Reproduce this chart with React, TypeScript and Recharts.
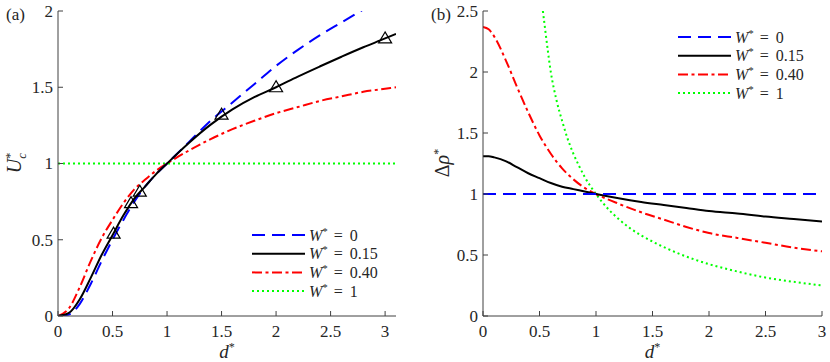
import React from 'react';
import { ComposedChart, Line, Scatter, XAxis, YAxis, Legend, Label } from 'recharts';

// panel (a): U*_c against d*
const dLeft = [0, 0.1, 0.2, 0.3, 0.4, 0.5, 0.6, 0.7, 0.8, 0.9, 1.0, 1.2, 1.4, 1.6, 1.8, 2.0, 2.2, 2.4, 2.6, 2.8, 3.0, 3.1];
const uW0 = [0, 0.01, 0.08, 0.21, 0.36, 0.5, 0.63, 0.75, 0.85, 0.93, 1.0, 1.14, 1.28, 1.4, 1.52, 1.64, 1.745, 1.84, 1.925, 2.01];
const uW015 = [0, 0.02, 0.11, 0.25, 0.4, 0.53, 0.66, 0.77, 0.85, 0.93, 1.0, 1.135, 1.255, 1.355, 1.435, 1.5, 1.57, 1.636, 1.7, 1.762, 1.82, 1.85];
const uW040 = [0, 0.05, 0.19, 0.36, 0.51, 0.63, 0.74, 0.83, 0.895, 0.953, 1.0, 1.085, 1.16, 1.225, 1.28, 1.33, 1.37, 1.41, 1.44, 1.47, 1.49, 1.5];
const dFlatLeft = [0, 3.1];
const uW1 = [1, 1];
const markerD = [0.51, 0.67, 0.75, 1.5, 2, 3];
const markerU = [0.54, 0.74, 0.815, 1.32, 1.5, 1.82];

// panel (b): delta rho* against d*
const dRight = [0, 0.05, 0.1, 0.2, 0.3, 0.4, 0.5, 0.6, 0.7, 0.8, 0.9, 1.0, 1.2, 1.4, 1.6, 1.8, 2.0, 2.25, 2.5, 2.75, 3.0];
const dFlatRight = [0, 3];
const rhoW0 = [1, 1];
const rhoW015 = [1.31, 1.31, 1.3, 1.27, 1.22, 1.17, 1.13, 1.09, 1.06, 1.04, 1.02, 1.0, 0.965, 0.935, 0.91, 0.885, 0.86, 0.84, 0.815, 0.795, 0.775];
const rhoW040 = [2.37, 2.35, 2.29, 2.1, 1.88, 1.67, 1.48, 1.33, 1.21, 1.12, 1.05, 1.0, 0.92, 0.85, 0.79, 0.73, 0.68, 0.64, 0.6, 0.56, 0.53];
const dGreen = [0.53, 0.55, 0.6, 0.65, 0.7, 0.75, 0.8, 0.85, 0.9, 1.0, 1.1, 1.2, 1.3, 1.4, 1.5, 1.75, 2.0, 2.25, 2.5, 2.75, 3.0];
const rhoW1 = [2.5, 2.35, 2.0, 1.77, 1.6, 1.45, 1.33, 1.23, 1.14, 1.0, 0.885, 0.795, 0.72, 0.66, 0.61, 0.505, 0.425, 0.365, 0.315, 0.28, 0.25];

const xTicks = [0, 0.5, 1, 1.5, 2, 2.5, 3];
const yTicksLeft = [0, 0.5, 1, 1.5, 2];
const yTicksRight = [0, 0.5, 1, 1.5, 2, 2.5];
const legendValues = ['0', '0.15', '0.40', '1'];

const serif = 'Liberation Serif';
const textColor = '#262626';
const axisColor = '#404040';
const looks = [
  { color: '#0000ff', dash: '13 7' },
  { color: '#000000', dash: undefined },
  { color: '#ff0000', dash: '10 3.5 3 3.5' },
  { color: '#00ff00', dash: '2 3' },
];

const pts = (xs: number[], ys: number[]) => ys.map((y, i) => ({ x: xs[i], y }));

const bottomTick = (p: any) => (
  <text x={p.x} y={p.y} dy="0.72em" textAnchor="middle" fill={textColor} style={{ fontFamily: serif, fontSize: 17 }}>
    {p.payload.value}
  </text>
);

const leftTick = (p: any) => (
  <text x={p.x} y={p.y} dy="0.34em" textAnchor="end" fill={textColor} style={{ fontFamily: serif, fontSize: 17 }}>
    {p.payload.value}
  </text>
);

function makeLegend(values: string[]) {
  return () => (
    <svg width={150} height={78} style={{ display: 'block' }}>
      {values.map((v, i) => {
        const y = 11 + i * 18.7;
        return (
          <g key={v}>
            <line x1={2} x2={55} y1={y} y2={y} stroke={looks[i].color} strokeWidth={2} strokeDasharray={looks[i].dash} />
            <text x={59} y={y + 5.5} fill={textColor} style={{ fontFamily: serif, fontSize: 16 }}>
              <tspan style={{ fontStyle: 'italic' }}>W</tspan>
              <tspan dy={-6} style={{ fontSize: 11 }}>*</tspan>
              <tspan dx={6} dy={6}>=</tspan>
              <tspan dx={7}>{v}</tspan>
            </text>
          </g>
        );
      })}
    </svg>
  );
}

const triangle = (props: any) => {
  const { cx, cy } = props;
  return (
    <polygon
      points={`${cx},${cy - 6.5} ${cx - 6.5},${cy + 4.5} ${cx + 6.5},${cy + 4.5}`}
      fill="none"
      stroke="#000"
      strokeWidth={1.2}
    />
  );
};

const xTitle = (props: any) => {
  const { viewBox } = props;
  const cx = viewBox.x + viewBox.width / 2;
  return (
    <text x={cx} y={viewBox.y + 42} textAnchor="middle" fill={textColor} style={{ fontFamily: serif, fontSize: 19 }}>
      <tspan style={{ fontStyle: 'italic' }}>d</tspan>
      <tspan dy={-7} style={{ fontSize: 12 }}>*</tspan>
    </text>
  );
};

const uTitle = () => (
  <text x={21} y={163} transform="rotate(-90, 21, 163)" textAnchor="middle" fill={textColor} style={{ fontFamily: serif, fontSize: 20 }}>
    <tspan style={{ fontStyle: 'italic' }}>U</tspan>
    <tspan dy={-7} style={{ fontSize: 12 }}>*</tspan>
    <tspan dx={-6} dy={12} style={{ fontSize: 13, fontStyle: 'italic' }}>c</tspan>
  </text>
);

const rhoTitle = () => (
  <text x={34} y={163} transform="rotate(-90, 34, 163)" textAnchor="middle" fill={textColor} style={{ fontFamily: serif, fontSize: 20 }}>
    <tspan>Δ</tspan>
    <tspan style={{ fontStyle: 'italic' }}>ρ</tspan>
    <tspan dy={-7} style={{ fontSize: 12 }}>*</tspan>
  </text>
);

export default function App() {
  const lineCommon = { type: 'monotone' as const, dot: false, activeDot: false, isAnimationActive: false, strokeWidth: 2, dataKey: 'y' };

  return (
    <div style={{ position: 'absolute', left: 0, top: 0, width: 830, height: 362, background: '#fff' }}>
      <div style={{ position: 'absolute', left: 6, top: 5, fontFamily: serif, fontSize: 17, color: textColor }}>(a)</div>
      <div style={{ position: 'absolute', left: 431, top: 5, fontFamily: serif, fontSize: 17, color: textColor }}>(b)</div>

      <div style={{ position: 'absolute', left: 0, top: 0 }}>
        <ComposedChart width={415} height={362} margin={{ top: 11, right: 19, bottom: 0, left: 0 }}>
          <XAxis dataKey="x" type="number" domain={[0, 3.1]} ticks={xTicks} interval={0} allowDataOverflow height={46}
            tickSize={-5} tickMargin={14} tick={bottomTick} stroke={axisColor}>
            <Label content={xTitle} />
          </XAxis>
          <XAxis xAxisId="top" orientation="top" type="number" domain={[0, 3.1]} ticks={xTicks} interval={0} allowDataOverflow height={0}
            tickSize={-5} tick={false} stroke={axisColor} />
          <YAxis type="number" domain={[0, 2]} ticks={yTicksLeft} interval={0} allowDataOverflow width={58}
            tickSize={-5} tickMargin={10} tick={leftTick} stroke={axisColor}>
            <Label content={uTitle} />
          </YAxis>
          <YAxis yAxisId="right" orientation="right" type="number" domain={[0, 2]} ticks={yTicksLeft} interval={0} allowDataOverflow width={0}
            tickSize={-5} tick={false} stroke={axisColor} />
          <Line {...lineCommon} data={pts(dFlatLeft, uW1)} stroke={looks[3].color} strokeDasharray={looks[3].dash} />
          <Line {...lineCommon} data={pts(dLeft, uW040)} stroke={looks[2].color} strokeDasharray={looks[2].dash} />
          <Line {...lineCommon} data={pts(dLeft, uW0)} stroke={looks[0].color} strokeDasharray={looks[0].dash} />
          <Line {...lineCommon} data={pts(dLeft, uW015)} stroke={looks[1].color} />
          <Scatter data={pts(markerD, markerU)} dataKey="y" shape={triangle} isAnimationActive={false} />
          <Legend layout="vertical" align="center" verticalAlign="middle" content={makeLegend(legendValues)}
            wrapperStyle={{ left: 250, top: 224, width: 150 }} />
        </ComposedChart>
      </div>

      <div style={{ position: 'absolute', left: 415, top: 0 }}>
        <ComposedChart width={415} height={362} margin={{ top: 11, right: 8, bottom: 0, left: 0 }}>
          <XAxis dataKey="x" type="number" domain={[0, 3]} ticks={xTicks} interval={0} allowDataOverflow height={46}
            tickSize={-5} tickMargin={14} tick={bottomTick} stroke={axisColor}>
            <Label content={xTitle} />
          </XAxis>
          <XAxis xAxisId="top" orientation="top" type="number" domain={[0, 3]} ticks={xTicks} interval={0} allowDataOverflow height={0}
            tickSize={-5} tick={false} stroke={axisColor} />
          <YAxis type="number" domain={[0, 2.5]} ticks={yTicksRight} interval={0} allowDataOverflow width={68}
            tickSize={-5} tickMargin={10} tick={leftTick} stroke={axisColor}>
            <Label content={rhoTitle} />
          </YAxis>
          <YAxis yAxisId="right" orientation="right" type="number" domain={[0, 2.5]} ticks={yTicksRight} interval={0} allowDataOverflow width={0}
            tickSize={-5} tick={false} stroke={axisColor} />
          <Line {...lineCommon} data={pts(dGreen, rhoW1)} stroke={looks[3].color} strokeDasharray={looks[3].dash} />
          <Line {...lineCommon} data={pts(dRight, rhoW040)} stroke={looks[2].color} strokeDasharray={looks[2].dash} />
          <Line {...lineCommon} data={pts(dRight, rhoW015)} stroke={looks[1].color} />
          <Line {...lineCommon} data={pts(dFlatRight, rhoW0)} stroke={looks[0].color} strokeDasharray={looks[0].dash} />
          <Legend layout="vertical" align="center" verticalAlign="middle" content={makeLegend(legendValues)}
            wrapperStyle={{ left: 261, top: 26, width: 150 }} />
        </ComposedChart>
      </div>
    </div>
  );
}
